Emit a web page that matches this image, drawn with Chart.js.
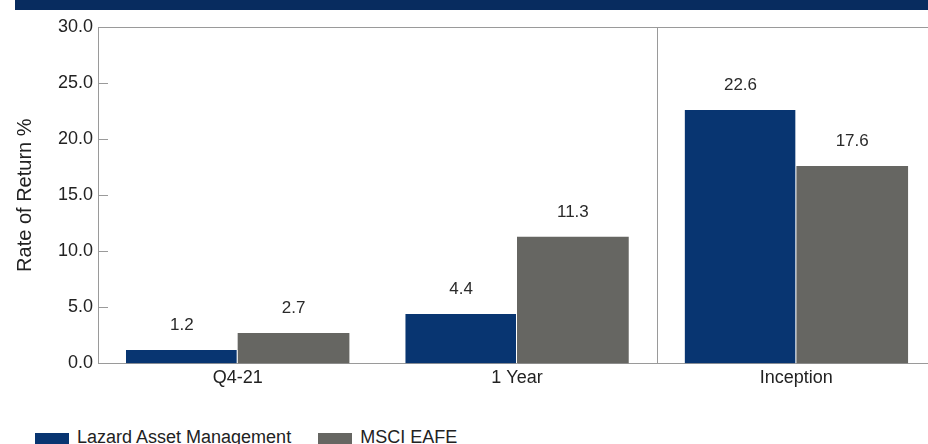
<!DOCTYPE html>
<html>
<head>
<meta charset="utf-8">
<script src="https://cdn.jsdelivr.net/npm/chart.js@4.4.1/dist/chart.umd.min.js"></script>
<style>
  html, body { margin: 0; padding: 0; background: #fff; overflow: hidden; }
  #wrap { position: relative; width: 928px; height: 444px; overflow: hidden; }
  #titlebar { position: absolute; left: 15px; top: 0; width: 913px; height: 10px; background: #082c5f; }
  #box { position: absolute; left: 0; top: 0; width: 936px; height: 400px; }
  #legend { position: absolute; left: 35px; top: 427px; font: 18px "Liberation Sans", Arial, sans-serif; color: #222; white-space: nowrap; }
  #legend span.item { display: inline-block; margin-right: 27px; }
  #legend span.sw { display: inline-block; width: 34px; height: 16px; margin-right: 8px; vertical-align: -6px; }
</style>
</head>
<body>
<div id="wrap">
  <div id="box"><canvas id="perfChart"></canvas></div>
  <div id="titlebar"></div>
  <div id="legend"></div>
</div>
<script>
const categories = ["Q4-21", "1 Year", "Inception"];
const lazard = [1.2, 4.4, 22.6];
const eafe = [2.7, 11.3, 17.6];
const seriesNames = ["Lazard Asset Management", "MSCI EAFE"];
const seriesColors = ["#083571", "#666662"];
const yTicks = [0, 5, 10, 15, 20, 25, 30];

const FONT = "'Liberation Sans', Arial, sans-serif";

// value labels, inner tick marks, top border and the separator line
const extras = {
  id: "extras",
  afterDatasetsDraw(chart) {
    const ctx = chart.ctx;
    const area = chart.chartArea;
    const x = chart.scales.x, y = chart.scales.y;
    ctx.save();
    ctx.strokeStyle = "#9a9a9a";
    ctx.lineWidth = 1;
    ctx.beginPath();
    ctx.moveTo(area.left, area.top + 0.5);
    ctx.lineTo(area.right, area.top + 0.5);
    const sep = Math.round((x.getPixelForTick(1) + x.getPixelForTick(2)) / 2) + 0.5;
    ctx.moveTo(sep, area.top);
    ctx.lineTo(sep, area.bottom);
    yTicks.forEach(v => {
      const py = Math.round(y.getPixelForValue(v)) + 0.5;
      ctx.moveTo(area.left, py);
      ctx.lineTo(area.left + 10, py);
    });
    ctx.stroke();

    ctx.fillStyle = "#2a2a2a";
    ctx.font = "17px " + FONT;
    ctx.textAlign = "center";
    ctx.textBaseline = "bottom";
    chart.data.datasets.forEach((ds, i) => {
      chart.getDatasetMeta(i).data.forEach((bar, j) => {
        ctx.fillText(ds.data[j].toFixed(1), bar.x, bar.y - 16);
      });
    });
    ctx.restore();
  }
};

new Chart(document.getElementById("perfChart"), {
  type: "bar",
  data: {
    labels: categories,
    datasets: [
      { label: seriesNames[0], data: lazard, backgroundColor: seriesColors[0], borderColor: "#ffffff", borderWidth: { right: 1 }, borderSkipped: false },
      { label: seriesNames[1], data: eafe, backgroundColor: seriesColors[1] }
    ]
  },
  options: {
    responsive: true,
    maintainAspectRatio: false,
    animation: false,
    layout: { padding: { left: 9, right: 0, top: 27, bottom: 7 } },
    datasets: { bar: { categoryPercentage: 0.8, barPercentage: 1.0 } },
    plugins: {
      legend: { display: false },
      tooltip: { enabled: false }
    },
    scales: {
      x: {
        grid: { display: false, drawTicks: false },
        border: { display: true, color: "#9a9a9a" },
        ticks: { color: "#222", font: { family: FONT, size: 18 }, padding: 4 }
      },
      y: {
        min: 0, max: 30,
        afterFit: s => { s.width = 89; },
        grid: { display: false, drawTicks: false },
        border: { display: true, color: "#9a9a9a" },
        ticks: {
          stepSize: 5,
          color: "#222",
          font: { family: FONT, size: 18 },
          padding: 5,
          callback: v => v.toFixed(1)
        },
        title: { display: true, text: "Rate of Return %", color: "#222", font: { family: FONT, size: 20 }, padding: { top: 4, bottom: 4 } }
      }
    }
  },
  plugins: [extras]
});

const legend = document.getElementById("legend");
seriesNames.forEach((name, i) => {
  const item = document.createElement("span");
  item.className = "item";
  const sw = document.createElement("span");
  sw.className = "sw";
  sw.style.background = seriesColors[i];
  item.appendChild(sw);
  item.appendChild(document.createTextNode(name));
  legend.appendChild(item);
});
</script>
</body>
</html>
